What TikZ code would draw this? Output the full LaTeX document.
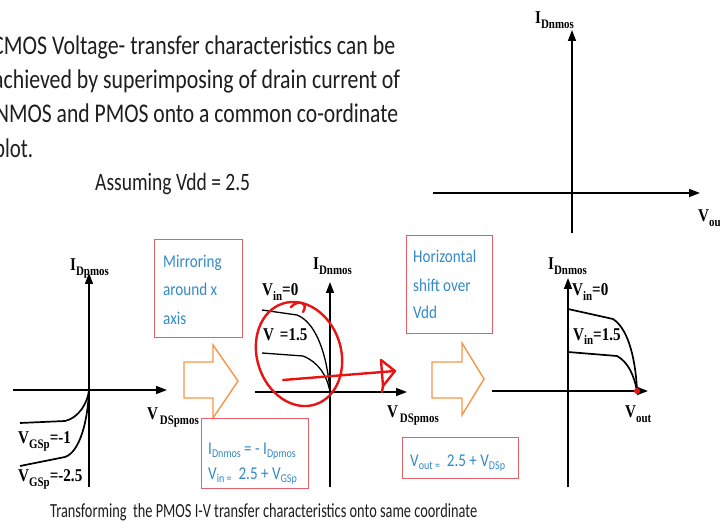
\documentclass[tikz,border=0pt]{standalone}
\usepackage{fontspec}
\setmainfont{Carlito}
\newfontfamily\tms{Liberation Serif}
\usetikzlibrary{arrows.meta}
\definecolor{txtblue}{RGB}{52,138,200}
\definecolor{boxred}{RGB}{226,96,106}
\definecolor{arrorange}{RGB}{247,150,70}
\definecolor{penred}{RGB}{232,20,20}
\definecolor{bodytext}{RGB}{30,30,30}
\newcommand\fitw[2]{\resizebox{#1}{\height}{#2}}
\newcommand\sqz[1]{\scalebox{0.84}[1]{#1}}
% Times bold label: main letter, subscript, rest
\newcommand\tlab[3]{\sqz{\tms\bfseries\fontsize{18}{18}\selectfont #1\raisebox{-5pt}{\fontsize{13}{13}\selectfont #2}#3}}
% Calibri subscript
\newcommand\csub[1]{\raisebox{-3.5pt}{\fontsize{12}{12}\selectfont #1}}
\begin{document}
\begin{tikzpicture}[x=1pt,y=-1pt,
  axis/.style={line width=1.5pt,-{Triangle[length=11pt,width=8pt]}},
  axisline/.style={line width=1.5pt},
  curve/.style={line width=1.7pt},
  thincurve/.style={line width=1.3pt},
  pbox/.style={draw=boxred,line width=1pt,inner sep=0pt,anchor=north west},
  barrow/.style={draw=arrorange,line width=1.4pt,line join=miter},
  pen/.style={draw=penred,line width=2.4pt,line cap=round,line join=round},
  body/.style={inner sep=0pt,anchor=base west,text=bodytext,font=\fontsize{27}{27}\selectfont},
  blue/.style={inner sep=0pt,anchor=base west,text=txtblue,font=\fontsize{18}{18}\selectfont},
  lab/.style={inner sep=0pt,anchor=base west,text=black}]
\useasboundingbox (0,0) rectangle (720,529);
\clip (0,0) rectangle (720,529);
\fill[white] (0,0) rectangle (720,529);

% ---------- body text ----------
\node[body] (t1) at (-8,55) {\fitw{403pt}{CMOS Voltage- transfer characteristics can be}};
\node[body] (t2) at (-7,89) {\fitw{407pt}{achieved by superimposing of drain current of}};
\node[body] (t3) at (-5,123) {\fitw{403pt}{NMOS and PMOS onto a common co-ordinate}};
\node[body] (t4) at (-6,158) {\fitw{39pt}{plot.}};
\node[body,font=\fontsize{25}{25}\selectfont] (ass) at (95,191) {\fitw{155pt}{Assuming Vdd = 2.5}};
\node[body,font=\fontsize{20}{20}\selectfont] (cap) at (50,517) {\fitw{427pt}{Transforming\ \ the PMOS I-V transfer characteristics onto same coordinate}};

% ---------- top-right axes ----------
\coordinate (trb) at (572,233); \coordinate (trt) at (572,30);
\coordinate (trl) at (433,193); \coordinate (trr) at (700,193);
\draw[axis] (trb) -- (trt);
\draw[axis] (trl) -- (trr);
\node[lab] (trI) at (535,24) {\tlab{I}{Dnmos}{}};
\node[lab] (trV) at (698,222) {\tlab{V}{ou}{}};

% ---------- left plot (PMOS) ----------
\coordinate (lb) at (89,487); \coordinate (lt) at (89,273);
\coordinate (ll) at (13,390); \coordinate (lr) at (167,390);
\coordinate (lo) at (89,390);
\draw[axis] (lb) -- (lt);
\draw[axis] (ll) -- (lr);
\draw[curve] (20,423) -- (65,421) .. controls (79,418) and (88,402) .. (lo);
\draw[curve] (20,466) -- (65,457) .. controls (80,452) and (88,420) .. (lo);
\node[lab] (lI) at (70,271) {\tlab{I}{Dpmos}{}};
\node[lab] (lV) at (147,419) {\tlab{V}{\,DSpmos}{}};
\node[lab] (lg1) at (18,443) {\tlab{V}{GSp}{=-1}};
\node[lab] (lg2) at (18,481) {\tlab{V}{GSp}{=-2.5}};

% ---------- box 1 + arrow 1 ----------
\node[pbox,minimum width=88,minimum height=98] (mbox) at (154,239) {};
\node[blue] (m1) at (163,268) {\sqz{Mirroring}};
\node[blue] (m2) at (163,296) {\sqz{around x}};
\node[blue] (m3) at (163,324) {\sqz{axis}};
\draw[barrow] (184,362) -- (213,362) -- (213,345) -- (238,381) -- (213,418) -- (213,398) -- (184,398) -- cycle;
\node[pbox,minimum width=107,minimum height=70] (ebox) at (201,418) {};
\node[blue] (e1) at (208,454) {\sqz{I\csub{Dnmos} = - I\csub{Dpmos}}};
\node[blue] (e2) at (208,479) {\sqz{V\csub{in =} \ 2.5 + V\csub{GSp}}};

% ---------- middle plot ----------
\coordinate (mb) at (330,487); \coordinate (mt) at (330,282);
\coordinate (ml) at (255,392); \coordinate (mr) at (407,392);
\coordinate (mo) at (330,392);
\draw[axis] (mb) -- (mt);
\draw[axis] (ml) -- (mr);
\draw[thincurve] (262,310) -- (297,315) .. controls (315,322) and (327,352) .. (mo);
\draw[thincurve] (262,353) -- (303,356) .. controls (318,362) and (327,375) .. (mo);
\node[lab] (mI) at (313,270) {\tlab{I}{Dnmos}{}};
\node[lab] (mV) at (387,417) {\tlab{V}{\,DSpmos}{}};
\node[lab] (mv0) at (262,296) {\tlab{V}{in}{=0}};
\node[lab] (mv1) at (263,340) {\tlab{V}{}{\hspace{7pt}=1.5}};

% red hand annotation
\coordinate (ec) at (299,354);
\draw[pen,rotate around={18:(ec)}] (ec) ellipse [x radius=42,y radius=53];
\draw[pen] (291,307) .. controls (298,299) and (309,303) .. (303,312);
\coordinate (ras) at (283,380); \coordinate (rae) at (395,371);
\draw[pen] (ras) -- (rae);
\draw[pen] (381,360) -- (rae) -- (383,386) -- (382,392);
\draw[pen] (381,360) -- (383,386);

% ---------- box 3 + arrow 2 ----------
\node[pbox,minimum width=86,minimum height=98] (hbox) at (406,235) {};
\node[blue] (h1) at (413,263) {\sqz{Horizontal}};
\node[blue] (h2) at (413,291) {\sqz{shift over}};
\node[blue] (h3) at (413,319) {\sqz{Vdd}};
\draw[barrow] (432,362) -- (462,362) -- (462,343) -- (484,379) -- (462,415) -- (462,398) -- (432,398) -- cycle;
\node[pbox,minimum width=116,minimum height=41] (vbox) at (402,437) {};
\node[blue] (v1) at (410,466) {\sqz{V\csub{out =} \ 2.5 + V\csub{DSp}}};

% ---------- right plot ----------
\coordinate (rb) at (568,487); \coordinate (rt) at (568,278);
\coordinate (rl) at (492,391); \coordinate (rr) at (648,391);
\coordinate (ro) at (637,391);
\draw[axis] (rb) -- (rt);
\draw[axis] (rl) -- (rr);
\draw[curve] (568,309) -- (613,319) .. controls (630,330) and (636,365) .. (ro);
\draw[curve] (568,352) -- (617,356) .. controls (628,362) and (634,375) .. (ro);
\fill[penred] (ro) circle (3);
\node[lab] (rI) at (548,270) {\tlab{I}{Dnmos}{}};
\node[lab] (rV) at (625,417) {\tlab{V}{out}{}};
\node[lab] (rv0) at (572,296) {\tlab{V}{in}{=0}};
\node[lab] (rv1) at (573,340) {\tlab{V}{in}{=1.5}};
\end{tikzpicture}
\end{document}
